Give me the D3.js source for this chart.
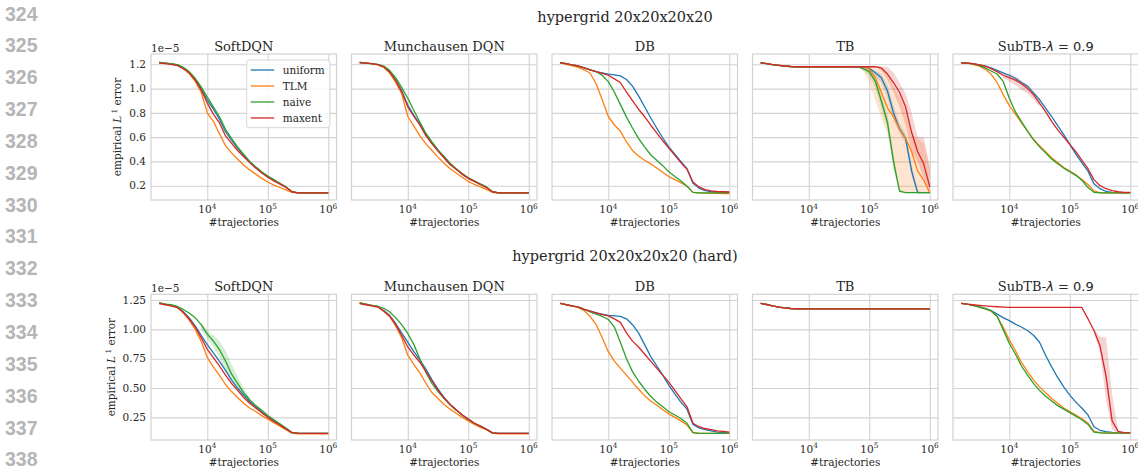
<!DOCTYPE html>
<html>
<head>
<meta charset="utf-8">
<script src="https://cdn.jsdelivr.net/npm/d3@7"></script>
<style>
  body { margin: 0; background: #fff; }
  text { font-family: "DejaVu Serif", serif; fill: #262626; }
  .lineno { font-family: "Liberation Sans", Arial, sans-serif; font-weight: bold; fill: #b5b5b5; }
</style>
</head>
<body>
<svg id="chart"></svg>
<script>
// x grid shared by every run (number of sampled trajectories)
const trajectories = [1600, 2000, 2500, 3200, 4000, 5000, 6300, 7900,
  10000, 12600, 15800, 20000, 25100, 31600, 39800, 50100, 63100, 79400,
  100000, 126000, 158000, 200000, 251000, 316000, 398000, 501000, 631000, 794000, 1000000];

const methods = ['uniform', 'TLM', 'naive', 'maxent'];
const methodColors = ['#1f77b4', '#ff7f0e', '#2ca02c', '#d62728'];
const algorithms = ['SoftDQN', 'Munchausen DQN', 'DB', 'TB', 'SubTB'];
const rowTitles = ['hypergrid 20x20x20x20', 'hypergrid 20x20x20x20 (hard)'];
const xTicks = [1e4, 1e5, 1e6];
const xTickExponents = ['4', '5', '6'];
const yTicksEasy = [0.2, 0.4, 0.6, 0.8, 1.0, 1.2];
const yTicksHard = [0.25, 0.5, 0.75, 1.0, 1.25];
const lineNumbers = [324, 325, 326, 327, 328, 329, 330, 331, 332, 333, 334, 335, 336, 337, 338];

// empirical L1 error (x 1e-5), one row per method: uniform, TLM, naive, maxent
const easySoftDQN = [
  [1.215,1.21,1.203,1.195,1.17,1.135,1.075,1.0, 0.905,0.83,0.75,0.645,0.575,0.51,0.45,0.395,0.35,0.31, 0.275,0.245,0.215,0.19,0.15,0.14,0.14,0.14,0.14,0.14, 0.14],
  [1.215,1.21,1.203,1.195,1.165,1.125,1.06,0.97, 0.80,0.73,0.63,0.53,0.47,0.42,0.37,0.33,0.295,0.26, 0.23,0.205,0.185,0.165,0.145,0.14,0.138,0.138,0.138,0.138, 0.138],
  [1.215,1.21,1.205,1.197,1.175,1.14,1.085,1.015, 0.93,0.85,0.77,0.665,0.59,0.52,0.46,0.40,0.355,0.315, 0.28,0.25,0.22,0.19,0.15,0.14,0.14,0.14,0.14,0.14, 0.14],
  [1.21,1.205,1.2,1.19,1.165,1.13,1.07,0.99, 0.88,0.79,0.72,0.61,0.55,0.49,0.44,0.39,0.345,0.305, 0.27,0.24,0.215,0.185,0.15,0.14,0.14,0.14,0.14,0.14, 0.14]
];
const easyMunchausen = [
  [1.215,1.21,1.205,1.198,1.18,1.14,1.07,0.985, 0.865,0.78,0.71,0.62,0.55,0.49,0.43,0.375,0.335,0.295, 0.26,0.235,0.21,0.185,0.15,0.14,0.14,0.14,0.14,0.14, 0.14],
  [1.215,1.21,1.205,1.196,1.175,1.13,1.05,0.96, 0.77,0.69,0.61,0.545,0.49,0.435,0.385,0.34,0.305,0.27, 0.235,0.21,0.19,0.17,0.145,0.138,0.138,0.138,0.138,0.138, 0.138],
  [1.215,1.21,1.205,1.2,1.185,1.15,1.09,1.01, 0.92,0.82,0.725,0.63,0.56,0.495,0.44,0.385,0.34,0.30, 0.265,0.24,0.215,0.19,0.15,0.14,0.14,0.14,0.14,0.14, 0.14],
  [1.215,1.21,1.205,1.197,1.178,1.135,1.065,0.975, 0.85,0.77,0.70,0.61,0.545,0.485,0.43,0.375,0.335,0.295, 0.26,0.235,0.21,0.185,0.15,0.14,0.14,0.14,0.14,0.14, 0.14]
];
const easyDB = [
  [1.213,1.205,1.195,1.186,1.17,1.155,1.14,1.13, 1.12,1.113,1.105,1.075,1.02,0.94,0.85,0.76,0.675,0.595, 0.52,0.46,0.40,0.34,0.22,0.18,0.16,0.152,0.148,0.146, 0.145],
  [1.213,1.2,1.19,1.175,1.155,1.126,1.04,0.91, 0.77,0.70,0.65,0.56,0.49,0.445,0.41,0.38,0.345,0.31, 0.275,0.25,0.225,0.195,0.145,0.14,0.138,0.137,0.136,0.135, 0.135],
  [1.213,1.205,1.195,1.186,1.17,1.155,1.14,1.11, 1.057,0.97,0.87,0.765,0.675,0.59,0.52,0.455,0.41,0.365, 0.315,0.275,0.24,0.195,0.145,0.14,0.14,0.14,0.14,0.14, 0.14],
  [1.213,1.205,1.195,1.186,1.17,1.155,1.14,1.125, 1.11,1.08,1.05,0.97,0.90,0.83,0.77,0.70,0.635,0.57, 0.51,0.45,0.39,0.335,0.23,0.19,0.168,0.158,0.152,0.15, 0.148]
];
const easyTB = [
  [1.213,1.205,1.198,1.192,1.186,1.182,1.18,1.18, 1.18,1.18,1.18,1.18,1.18,1.18,1.18,1.18,1.18,1.18, 1.165,1.13,1.09,0.98,0.80,0.67,0.59,0.32,0.142,0.142, 0.142],
  [1.213,1.205,1.198,1.192,1.186,1.182,1.18,1.18, 1.18,1.18,1.18,1.18,1.18,1.18,1.18,1.18,1.18,1.18, 1.16,1.09,0.97,0.84,0.77,0.665,0.59,0.48,0.32,0.245, 0.14],
  [1.213,1.205,1.198,1.192,1.186,1.182,1.18,1.18, 1.18,1.18,1.18,1.18,1.18,1.18,1.18,1.18,1.18,1.165, 1.14,1.06,0.90,0.72,0.40,0.155,0.142,0.142,0.142,0.142, 0.142],
  [1.213,1.205,1.198,1.192,1.186,1.182,1.18,1.18, 1.18,1.18,1.18,1.18,1.18,1.18,1.18,1.18,1.18,1.18, 1.18,1.18,1.17,1.12,1.05,0.97,0.85,0.64,0.48,0.38, 0.19]
];
const easySubTB = [
  [1.213,1.21,1.205,1.195,1.185,1.17,1.15,1.13, 1.11,1.085,1.05,1.02,0.965,0.91,0.84,0.77,0.695,0.62, 0.54,0.46,0.39,0.32,0.215,0.175,0.152,0.145,0.142,0.14, 0.14],
  [1.213,1.21,1.2,1.185,1.16,1.12,1.05,0.95, 0.86,0.79,0.72,0.65,0.58,0.53,0.48,0.43,0.39,0.35, 0.32,0.29,0.25,0.21,0.155,0.143,0.14,0.14,0.14,0.14, 0.14],
  [1.213,1.21,1.203,1.19,1.17,1.145,1.12,1.06, 0.92,0.81,0.73,0.65,0.58,0.52,0.47,0.42,0.38,0.345, 0.315,0.285,0.245,0.185,0.145,0.14,0.14,0.14,0.14,0.14, 0.14],
  [1.213,1.21,1.205,1.195,1.185,1.165,1.14,1.11, 1.09,1.07,1.04,1.0,0.95,0.88,0.81,0.73,0.66,0.60, 0.54,0.48,0.41,0.34,0.25,0.2,0.175,0.16,0.15,0.145, 0.145]
];

const hardSoftDQN = [
  [1.225,1.215,1.205,1.19,1.15,1.10,1.03,0.95, 0.87,0.80,0.73,0.65,0.57,0.50,0.44,0.385,0.34,0.295, 0.255,0.22,0.19,0.155,0.12,0.115,0.113,0.113,0.113,0.113, 0.113],
  [1.225,1.215,1.205,1.19,1.14,1.08,1.0,0.90, 0.76,0.68,0.61,0.53,0.47,0.42,0.37,0.33,0.30,0.265, 0.235,0.205,0.175,0.145,0.115,0.11,0.11,0.11,0.11,0.11, 0.11],
  [1.225,1.215,1.21,1.195,1.17,1.14,1.10,1.04, 0.96,0.90,0.83,0.73,0.62,0.54,0.46,0.40,0.35,0.31, 0.265,0.23,0.195,0.16,0.12,0.115,0.113,0.113,0.113,0.113, 0.113],
  [1.22,1.21,1.2,1.185,1.145,1.09,1.02,0.93, 0.83,0.76,0.69,0.61,0.54,0.48,0.42,0.37,0.33,0.29, 0.25,0.215,0.185,0.15,0.12,0.115,0.113,0.113,0.113,0.113, 0.113]
];
const hardMunchausen = [
  [1.225,1.215,1.205,1.195,1.16,1.12,1.05,0.97, 0.89,0.81,0.74,0.66,0.57,0.49,0.42,0.36,0.315,0.27, 0.235,0.20,0.175,0.148,0.118,0.113,0.113,0.113,0.113,0.113, 0.113],
  [1.225,1.215,1.205,1.195,1.155,1.11,1.03,0.93, 0.78,0.70,0.63,0.54,0.46,0.41,0.36,0.32,0.285,0.25, 0.22,0.19,0.165,0.145,0.115,0.11,0.11,0.11,0.11,0.11, 0.11],
  [1.225,1.215,1.205,1.195,1.18,1.15,1.10,1.04, 0.965,0.87,0.75,0.63,0.54,0.47,0.41,0.355,0.31,0.27, 0.23,0.20,0.175,0.15,0.118,0.113,0.113,0.113,0.113,0.113, 0.113],
  [1.22,1.21,1.2,1.19,1.155,1.115,1.04,0.95, 0.85,0.78,0.72,0.64,0.56,0.48,0.415,0.36,0.315,0.27, 0.235,0.20,0.175,0.148,0.118,0.113,0.113,0.113,0.113,0.113, 0.113]
];
const hardDB = [
  [1.222,1.21,1.2,1.19,1.17,1.155,1.14,1.13, 1.12,1.115,1.11,1.09,1.04,0.97,0.87,0.77,0.69,0.61, 0.525,0.45,0.38,0.32,0.19,0.16,0.145,0.135,0.125,0.12, 0.115],
  [1.222,1.21,1.2,1.185,1.16,1.11,1.04,0.93, 0.81,0.73,0.67,0.61,0.55,0.49,0.435,0.39,0.355,0.315, 0.28,0.25,0.22,0.185,0.12,0.113,0.113,0.113,0.113,0.113, 0.113],
  [1.222,1.21,1.2,1.19,1.17,1.15,1.13,1.11, 1.085,1.02,0.89,0.75,0.64,0.56,0.49,0.43,0.38,0.34, 0.30,0.27,0.24,0.20,0.12,0.113,0.113,0.113,0.113,0.113, 0.113],
  [1.222,1.21,1.2,1.19,1.17,1.155,1.14,1.125, 1.115,1.09,1.06,0.97,0.90,0.85,0.79,0.73,0.67,0.61, 0.55,0.48,0.41,0.34,0.20,0.17,0.155,0.145,0.135,0.13, 0.125]
];
const hardTB = [
  [1.222,1.212,1.2,1.19,1.183,1.178,1.176,1.175, 1.175,1.175,1.175,1.175,1.175,1.175,1.175,1.175,1.175,1.175, 1.175,1.175,1.175,1.175,1.175,1.175,1.175,1.175,1.175,1.175, 1.175],
  [1.222,1.212,1.2,1.19,1.183,1.178,1.176,1.175, 1.175,1.175,1.175,1.175,1.175,1.175,1.175,1.175,1.175,1.175, 1.175,1.175,1.175,1.175,1.175,1.175,1.175,1.175,1.175,1.175, 1.175],
  [1.222,1.212,1.2,1.19,1.183,1.178,1.176,1.175, 1.175,1.175,1.175,1.175,1.175,1.175,1.175,1.175,1.175,1.175, 1.175,1.175,1.175,1.175,1.175,1.175,1.175,1.175,1.175,1.175, 1.175],
  [1.222,1.212,1.2,1.19,1.183,1.178,1.176,1.175, 1.175,1.175,1.175,1.175,1.175,1.175,1.175,1.175,1.175,1.175, 1.175,1.175,1.175,1.175,1.175,1.175,1.175,1.175,1.175,1.175, 1.175]
];
const hardSubTB = [
  [1.222,1.215,1.205,1.195,1.18,1.16,1.13,1.10, 1.075,1.045,1.02,0.99,0.95,0.89,0.78,0.68,0.59,0.51, 0.44,0.38,0.33,0.27,0.17,0.14,0.128,0.122,0.12,0.12, 0.118],
  [1.222,1.215,1.205,1.19,1.175,1.155,1.11,1.02, 0.91,0.82,0.72,0.64,0.57,0.51,0.46,0.41,0.37,0.33, 0.30,0.27,0.24,0.20,0.13,0.12,0.118,0.118,0.118,0.118, 0.118],
  [1.222,1.215,1.205,1.19,1.175,1.16,1.11,1.0, 0.88,0.79,0.69,0.61,0.54,0.48,0.43,0.39,0.35,0.32, 0.29,0.26,0.23,0.19,0.125,0.118,0.116,0.116,0.116,0.116, 0.116],
  [1.222,1.215,1.21,1.205,1.2,1.196,1.193,1.19, 1.188,1.187,1.187,1.187,1.187,1.187,1.187,1.187,1.187,1.187, 1.187,1.187,1.187,1.09,0.99,0.86,0.60,0.22,0.13,0.12, 0.118]
];

// spread across seeds (lower / upper), null where the band is not visible
const easyTBUniformLo = [null,null,null,null,null,null,null,null, null,null,null,null,null,null,null,null,null,null, 1.15,1.10,1.05,0.92,0.74,0.63,0.55,0.28,0.14,0.14, 0.14];
const easyTBUniformHi = [null,null,null,null,null,null,null,null, null,null,null,null,null,null,null,null,null,null, 1.18,1.15,1.12,1.03,0.86,0.71,0.63,0.38,0.16,0.142, 0.142];
const easyTBTLMLo = [null,null,null,null,null,null,null,null, null,null,null,null,null,null,null,null,1.18,1.15, 1.05,0.90,0.76,0.63,0.38,0.15,0.14,0.14,0.14,0.14, 0.14];
const easyTBTLMHi = [null,null,null,null,null,null,null,null, null,null,null,null,null,null,null,null,1.18,1.18, 1.18,1.18,1.18,1.12,1.02,0.93,0.82,0.62,0.58,0.55, 0.35];
const easyTBNaiveLo = [null,null,null,null,null,null,null,null, null,null,null,null,null,null,null,null,1.18,1.15, 1.11,1.01,0.84,0.66,0.33,0.145,0.142,0.142,0.142,0.142, 0.142];
const easyTBNaiveHi = [null,null,null,null,null,null,null,null, null,null,null,null,null,null,null,null,1.18,1.18, 1.17,1.10,0.95,0.78,0.47,0.17,0.142,0.142,0.142,0.142, 0.142];
const easyTBMaxentLo = [null,null,null,null,null,null,null,null, null,null,null,null,null,null,null,null,null,null, null,1.18,1.15,1.07,0.97,0.85,0.70,0.48,0.40,0.26, 0.14];
const easyTBMaxentHi = [null,null,null,null,null,null,null,null, null,null,null,null,null,null,null,null,null,null, null,1.18,1.18,1.18,1.13,1.05,0.96,0.80,0.60,0.60, 0.36];
const easySubTBMaxentLo = [null,null,null,null,null,null,null,1.09, 1.06,1.03,0.99,0.96,0.91,0.85,null,null,null,null, null,null,null,null,null,null,null,null,null,null, null];
const easySubTBMaxentHi = [null,null,null,null,null,null,null,1.13, 1.12,1.10,1.07,1.03,0.98,0.91,null,null,null,null, null,null,null,null,null,null,null,null,null,null, null];
const hardSoftDQNNaiveLo = [null,null,null,null,null,null,null,1.0, 0.92,0.85,0.76,0.64,0.55,0.49,0.43,0.38,null,null, null,null,null,null,null,null,null,null,null,null, null];
const hardSoftDQNNaiveHi = [null,null,null,null,null,null,null,1.06, 0.99,0.95,0.90,0.82,0.70,0.60,0.50,0.42,null,null, null,null,null,null,null,null,null,null,null,null, null];
const hardSubTBMaxentLo = [null,null,null,null,null,null,null,null, null,null,null,null,null,null,null,null,null,null, null,null,null,null,0.97,0.80,0.40,0.14,0.125,null, null];
const hardSubTBMaxentHi = [null,null,null,null,null,null,null,null, null,null,null,null,null,null,null,null,null,null, null,null,null,null,1.0,0.94,0.93,0.45,0.14,null, null];

const rows = [
  {
    title: rowTitles[0], yTicks: yTicksEasy, fmt: d3.format('.1f'),
    series: [easySoftDQN, easyMunchausen, easyDB, easyTB, easySubTB],
    bands: [
      {panel: 3, method: 0, lo: easyTBUniformLo, hi: easyTBUniformHi},
      {panel: 3, method: 1, lo: easyTBTLMLo, hi: easyTBTLMHi},
      {panel: 3, method: 2, lo: easyTBNaiveLo, hi: easyTBNaiveHi},
      {panel: 3, method: 3, lo: easyTBMaxentLo, hi: easyTBMaxentHi},
      {panel: 4, method: 3, lo: easySubTBMaxentLo, hi: easySubTBMaxentHi}
    ]
  },
  {
    title: rowTitles[1], yTicks: yTicksHard, fmt: d3.format('.2f'),
    series: [hardSoftDQN, hardMunchausen, hardDB, hardTB, hardSubTB],
    bands: [
      {panel: 0, method: 2, lo: hardSoftDQNNaiveLo, hi: hardSoftDQNNaiveHi},
      {panel: 4, method: 3, lo: hardSubTBMaxentLo, hi: hardSubTBMaxentHi}
    ]
  }
];

/******************** layout ********************/
const W = 1138, H = 471;
const panelX0 = 151, panelStep = 200.5, panelW = 185.5;
const rowLayout = [
  {top: 54, bottom: 200, yDomain: [0.082, 1.285], titleY: 21.5},
  {top: 294.3, bottom: 440, yDomain: [0.057, 1.299], titleY: 261}
];
const gridColor = '#d2d2d2';
const smallFont = '10.5px';

const svg = d3.select('#chart')
  .attr('width', W)
  .attr('height', H)
  .style('background-color', '#fff');

// page line numbers on the left margin
svg.selectAll('.lineno')
  .data(lineNumbers)
  .enter()
  .append('text')
  .attr('class', 'lineno')
  .attr('x', 5)
  .attr('y', (d, i) => 20.5 + i * 31.85)
  .style('font-size', '19.5px')
  .text(d => d);

const xScale = d3.scaleLog().domain([1172, 1.368e6]).range([0, panelW]);

rows.forEach((row, r) => {
  const lay = rowLayout[r];
  const h = lay.bottom - lay.top;
  const yScale = d3.scaleLinear().domain(lay.yDomain).range([h, 0]);

  svg.append('text')
    .attr('x', 625)
    .attr('y', lay.titleY)
    .attr('text-anchor', 'middle')
    .style('font-size', '14.5px')
    .text(row.title);

  row.series.forEach((panelSeries, p) => {
    const left = panelX0 + p * panelStep;
    const g = svg.append('g').attr('transform', `translate(${left}, ${lay.top})`);

    /*********** grid ***********/
    g.append('g')
      .call(d3.axisLeft(yScale).tickValues(row.yTicks).tickSize(-panelW).tickFormat(''))
      .call(a => a.select('.domain').remove())
      .selectAll('line')
      .style('stroke', gridColor)
      .style('stroke-width', 1.1);

    g.append('g')
      .attr('transform', `translate(0, ${h})`)
      .call(d3.axisBottom(xScale).tickValues(xTicks).tickSize(-h).tickFormat(''))
      .call(a => a.select('.domain').remove())
      .selectAll('line')
      .style('stroke', gridColor)
      .style('stroke-width', 1.1);

    g.append('rect')
      .attr('width', panelW)
      .attr('height', h)
      .style('fill', 'none')
      .style('stroke', gridColor)
      .style('stroke-width', 1.2);

    /*********** tick labels ***********/
    const xl = g.selectAll('.xlab')
      .data(xTicks)
      .enter()
      .append('text')
      .attr('class', 'xlab')
      .attr('x', d => xScale(d))
      .attr('y', h + 13.3)
      .attr('text-anchor', 'middle')
      .style('font-size', smallFont);
    xl.append('tspan').text('10');
    xl.append('tspan')
      .attr('dy', -4.8)
      .style('font-size', '7.4px')
      .text((d, i) => xTickExponents[i]);

    g.append('text')
      .attr('x', panelW / 2)
      .attr('y', h + 26)
      .attr('text-anchor', 'middle')
      .style('font-size', smallFont)
      .text('#trajectories');

    if (p === 0) {
      g.selectAll('.ylab')
        .data(row.yTicks)
        .enter()
        .append('text')
        .attr('x', -5)
        .attr('y', d => yScale(d))
        .attr('dy', '0.36em')
        .attr('text-anchor', 'end')
        .style('font-size', smallFont)
        .text(d => row.fmt(d));

      g.append('text')
        .attr('x', 0)
        .attr('y', -2)
        .style('font-size', smallFont)
        .text('1e\u22125');

      const yl = g.append('text')
        .attr('transform', `translate(${r === 0 ? -30 : -36}, ${h / 2}) rotate(-90)`)
        .attr('text-anchor', 'middle')
        .style('font-size', smallFont);
      yl.append('tspan').text('empirical ');
      yl.append('tspan').style('font-style', 'italic').text('L');
      yl.append('tspan').attr('dy', -4.5).style('font-size', '7.4px').text(' 1');
      yl.append('tspan').attr('dy', 4.5).text(' error');
    }

    /*********** panel title ***********/
    const t = g.append('text')
      .attr('x', panelW / 2)
      .attr('y', -3)
      .attr('text-anchor', 'middle')
      .style('font-size', '13px');
    if (p === 4) {
      t.append('tspan').text(algorithms[p] + '-');
      t.append('tspan').style('font-family', '"DejaVu Sans"').style('font-style', 'italic').text('\u03bb');
      t.append('tspan').style('font-family', '"DejaVu Sans"').text(' = 0.9');
    } else {
      t.text(algorithms[p]);
    }

    /*********** bands ***********/
    const area = d3.area()
      .defined(d => d.lo !== null)
      .x(d => xScale(d.x))
      .y0(d => yScale(d.lo))
      .y1(d => yScale(d.hi));

    row.bands.filter(b => b.panel === p).forEach(b => {
      const pts = trajectories.map((x, i) => ({x: x, lo: b.lo[i], hi: b.hi[i]}));
      g.append('path')
        .attr('d', area(pts))
        .style('fill', methodColors[b.method])
        .style('opacity', 0.2);
    });

    /*********** lines ***********/
    const line = d3.line()
      .x(d => xScale(d.x))
      .y(d => yScale(d.y));

    panelSeries.forEach((vals, m) => {
      const pts = trajectories.map((x, i) => ({x: x, y: vals[i]}));
      g.append('path')
        .attr('d', line(pts))
        .style('fill', 'none')
        .style('stroke', methodColors[m])
        .style('stroke-width', 1.3)
        .style('stroke-linejoin', 'round');
    });

    /*********** legend ***********/
    if (r === 0 && p === 0) {
      const lg = g.append('g').attr('transform', 'translate(95.7, 6)');
      lg.append('rect')
        .attr('width', 83.3)
        .attr('height', 67.7)
        .attr('rx', 3)
        .style('fill', '#fff')
        .style('fill-opacity', 0.85)
        .style('stroke', '#cccccc')
        .style('stroke-width', 0.8);
      const items = lg.selectAll('.item')
        .data(methods)
        .enter()
        .append('g')
        .attr('transform', (d, i) => `translate(0, ${10 + i * 16})`);
      items.append('line')
        .attr('x1', 4).attr('x2', 27.5)
        .style('stroke', (d, i) => methodColors[i])
        .style('stroke-width', 1.3);
      items.append('text')
        .attr('x', 36)
        .attr('dy', '0.35em')
        .style('font-size', smallFont)
        .text(d => d);
    }
  });
});
</script>
</body>
</html>
